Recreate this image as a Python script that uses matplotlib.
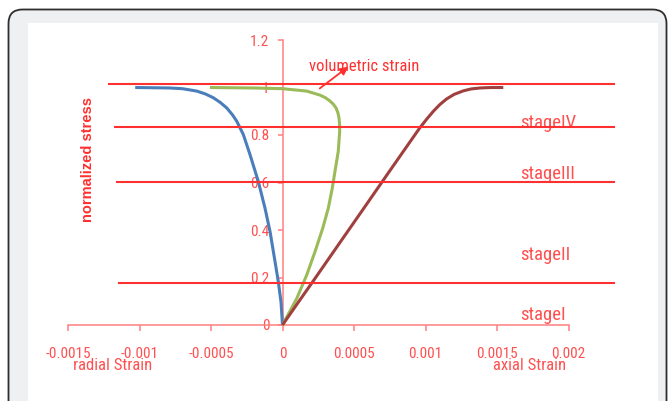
import matplotlib
matplotlib.use('Agg')
import matplotlib.pyplot as plt
from matplotlib import font_manager
from matplotlib.patches import FancyBboxPatch, Rectangle

# curves
radial_strain = [-0.00103, -0.00079, -0.0007, -0.0006, -0.00054, -0.000484, -0.000435, -0.00039,
                 -0.00035, -0.00032, -0.000274, -0.000227, -0.000169, -0.000122, -0.000087,
                 -0.000052, -0.000029, -0.0000105, 0]
radial_stress = [1.0, 0.998, 0.995, 0.985, 0.973, 0.957, 0.937, 0.914, 0.885, 0.858, 0.802, 0.717,
                 0.604, 0.491, 0.393, 0.266, 0.181, 0.097, 0]

vol_strain = [-0.000507, -0.000204, 0, 0.000169, 0.000262, 0.0003, 0.000332, 0.000355, 0.000374,
              0.000387, 0.000395, 0.000399, 0.0004, 0.00039, 0.000367, 0.000348, 0.00032, 0.000281,
              0.000227, 0.000169, 0.000099, 0]
vol_stress = [1.0, 0.998, 0.995, 0.985, 0.968, 0.957, 0.943, 0.93, 0.914, 0.895, 0.872, 0.845,
              0.816, 0.731, 0.647, 0.576, 0.491, 0.407, 0.308, 0.21, 0.111, 0]

axial_strain = [0, 0.000112, 0.00021, 0.000406, 0.000568, 0.000698, 0.000845, 0.00096, 0.00101,
                0.001055, 0.0011, 0.001148, 0.0012, 0.001265, 0.00132, 0.001381, 0.00146, 0.001544]
axial_stress = [0, 0.097, 0.181, 0.351, 0.491, 0.604, 0.731, 0.83, 0.868, 0.9, 0.928, 0.952, 0.971,
                0.986, 0.994, 0.998, 1.0, 1.0]

stage_levels = [1.013, 0.832, 0.604, 0.178]
stage_starts = [-0.00121, -0.00117, -0.00116, -0.00114]
stage_end = 0.00232
stage_labels = ['stageIV', 'stageIII', 'stageII', 'stageI']
stage_label_y = [0.85, 0.636, 0.295, 0.042]
stage_label_x = 0.00166

xticks = [-0.0015, -0.001, -0.0005, 0, 0.0005, 0.001, 0.0015, 0.002]
xticklabels = ['-0.0015', '-0.001', '-0.0005', '0', '0.0005', '0.001', '0.0015', '0.002']
yticks = [0, 0.2, 0.4, 0.6, 0.8, 1.0, 1.2]
yticklabels = ['0', '0.2', '0.4', '0.6', '0.8', '1', '1.2']

# pick a narrow face if one is installed
fonts = font_manager.fontManager.ttflist
names = {f.name for f in fonts}
stretch = 'normal'
narrow = None
for cand in ['Liberation Sans Narrow', 'Roboto Condensed', 'Open Sans Condensed', 'Arial Narrow']:
    if cand in names:
        narrow = [cand, 'DejaVu Sans']
        break
if narrow is None:
    if any(f.name == 'DejaVu Sans' and f.stretch == 'condensed' for f in fonts):
        narrow = ['DejaVu Sans']
        stretch = 'condensed'
    else:
        narrow = ['Lato', 'DejaVu Sans']
scale = 1.0 if stretch == 'condensed' or narrow[0] != 'Lato' else 0.95

red = '#ff3030'
axred = '#ff8080'
txtred = '#ff5050'

W, H = 669, 401
fig = plt.figure(figsize=(W / 100, H / 100), dpi=100)
fig.patch.set_facecolor('white')

# card frame behind the chart
bg = fig.add_axes([0, 0, 1, 1])
bg.set_xlim(0, W)
bg.set_ylim(H, 0)
bg.axis('off')
bg.add_patch(FancyBboxPatch((8.5, 9.5), 658, 430, boxstyle='round,pad=0,rounding_size=14',
                            facecolor='#eff0f2', edgecolor='#2e2e2e', lw=1.3))
bg.add_patch(Rectangle((28, 23), 630, 400, facecolor='white', edgecolor='none'))

# axes placed so that x=0 -> 282.5px, 0.001 -> +143px ; y=0 -> 325px, 0.2 -> -47.5px
xlim = (-0.0019, 0.0026)
ylim = (-0.3, 1.3)
px0, pxs = 282.5, 143000.0
py0, pys = 325.0, 237.5
left = px0 + xlim[0] * pxs
right = px0 + xlim[1] * pxs
top = py0 - ylim[1] * pys
bottom = py0 - ylim[0] * pys
ax = fig.add_axes([left / W, 1 - bottom / H, (right - left) / W, (bottom - top) / H])
ax.set_facecolor('none')
ax.set_xlim(xlim)
ax.set_ylim(ylim)

ax.plot(radial_strain, radial_stress, color='#4a7ebb', lw=2.2, solid_capstyle='butt', zorder=3)
ax.plot(vol_strain, vol_stress, color='#9bbb59', lw=2.2, solid_capstyle='butt', zorder=3)
ax.plot(axial_strain, axial_stress, color='#a0403e', lw=2.2, solid_capstyle='butt', zorder=3)

for y0, x0 in zip(stage_levels, stage_starts):
    ax.plot([x0, stage_end], [y0, y0], color=red, lw=1.5, zorder=5)
for lab, ly in zip(stage_labels, stage_label_y):
    ax.text(stage_label_x, ly, lab, color=txtred, fontsize=13.5 * scale, family=narrow,
            stretch=stretch, va='center', ha='left')

# axes crossing at the origin
for s in ['top', 'right']:
    ax.spines[s].set_visible(False)
ax.spines['left'].set_position(('data', 0))
ax.spines['bottom'].set_position(('data', 0))
ax.spines['left'].set_bounds(0, 1.2)
ax.spines['bottom'].set_bounds(-0.0015, 0.002)
for s in ['left', 'bottom']:
    ax.spines[s].set_color(axred)
    ax.spines[s].set_linewidth(1.1)
ax.set_xticks(xticks)
ax.set_xticklabels(xticklabels)
ax.set_yticks(yticks)
ax.set_yticklabels(yticklabels)
ax.tick_params(axis='x', direction='out', length=4.5, width=1.1, color=axred, pad=11,
               labelcolor=txtred, labelsize=11 * scale)
ax.tick_params(axis='y', direction='out', length=3.5, width=1.1, color=axred, pad=6,
               labelcolor=txtred, labelsize=11 * scale)
for t in ax.get_xticklabels() + ax.get_yticklabels():
    t.set_family(narrow)
    t.set_stretch(stretch)

# axis captions
ax.text(-0.00119, -0.17, 'radial Strain', color=txtred, fontsize=12 * scale, family=narrow,
        stretch=stretch, ha='center', va='center')
ax.text(0.00173, -0.17, 'axial Strain', color=txtred, fontsize=12 * scale, family=narrow,
        stretch=stretch, ha='center', va='center')
ax.text(-0.00136, 0.696, 'normalized stress', color=red, fontsize=10.5, fontweight='bold',
        family=['Liberation Sans', 'DejaVu Sans'], rotation=90, ha='center', va='center')

# volumetric strain note with arrow
ax.text(0.000182, 1.09, 'volumetric strain', color=red, fontsize=12 * scale, family=narrow,
        stretch=stretch, ha='left', va='center', zorder=4)
ax.annotate('', xy=(0.000476, 1.095), xytext=(0.000245, 0.989),
            arrowprops=dict(arrowstyle='-|>', color=red, lw=1.3, mutation_scale=12), zorder=6)

fig.savefig('out.png', dpi=100)
